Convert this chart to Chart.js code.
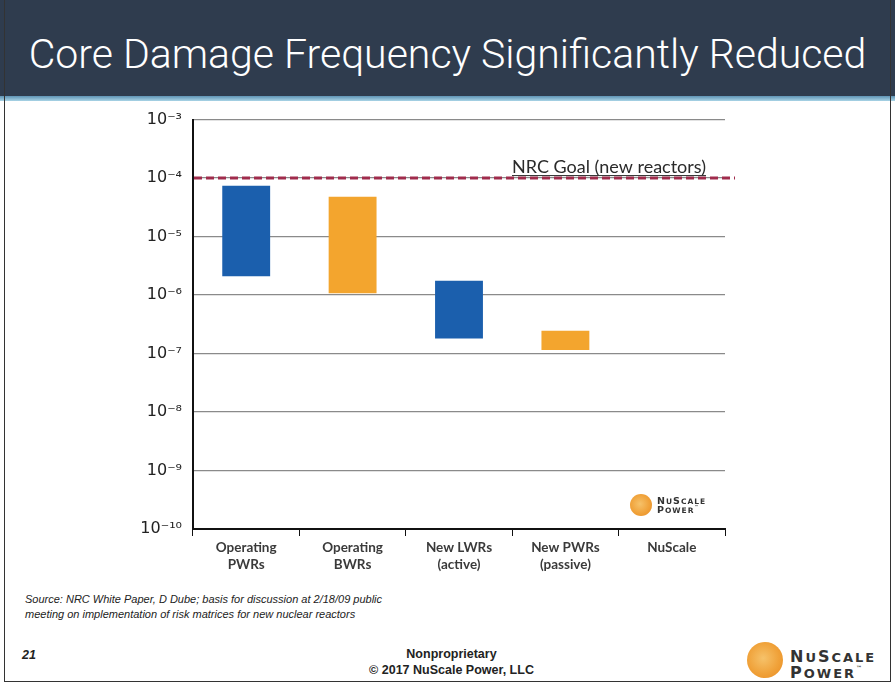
<!DOCTYPE html>
<html>
<head>
<meta charset="utf-8">
<script src="https://cdn.jsdelivr.net/npm/chart.js@4"></script>
<style>
  html,body{margin:0;padding:0;background:#fff;}
  #slide{position:relative;width:895px;height:686px;overflow:hidden;background:#fff;font-family:'Liberation Sans',Arial,sans-serif;}
  #titlebar{position:absolute;left:0;top:0;width:895px;height:101px;background:#2f3c4e;}
  #titlebar .strip{position:absolute;left:0;bottom:0;width:100%;height:5px;background:linear-gradient(#5f93b4,#a9d4e6);}
  #title{position:absolute;left:0;top:30px;width:895px;text-align:center;color:#fff;font-family:Roboto,'Liberation Sans',Arial,sans-serif;font-size:41px;font-weight:300;white-space:nowrap;}
  #chartwrap{position:absolute;left:0;top:99px;width:895px;height:486px;}
  .src{position:absolute;left:25px;font-style:italic;font-size:11px;color:#222;white-space:nowrap;}
  #pg{position:absolute;left:22px;top:648px;font-weight:bold;font-style:italic;font-size:12.5px;color:#222;}
  .foot{position:absolute;left:4px;width:895px;text-align:center;font-weight:bold;font-size:12.5px;color:#222;}
  .logo{position:absolute;}
  .logo .ball{position:absolute;border-radius:50%;background:radial-gradient(circle at 45% 45%,#f6c26a 0%,#f0a23a 55%,#e88a20 100%);}
  .logo .t{position:absolute;font-family:'DejaVu Sans',sans-serif;font-weight:bold;color:#333;line-height:1;white-space:nowrap;}
  #border{position:absolute;left:4px;top:0;width:887px;height:682px;border:1px solid #333;border-top:none;box-sizing:border-box;pointer-events:none;}
</style>
</head>
<body>
<div id="slide">
  <div id="titlebar"><div class="strip"></div><div id="title">Core Damage Frequency Significantly Reduced</div></div>
  <div id="chartwrap"><canvas id="c"></canvas></div>
  <div class="logo" style="left:630px;top:494px;">
    <div class="ball" style="left:0;top:0;width:22px;height:22px;"></div>
    <div class="t" style="left:27px;top:2px;font-size:9.5px;letter-spacing:1px;">N<span style="font-size:7.5px">U</span>S<span style="font-size:7.5px">CALE</span></div>
    <div class="t" style="left:27px;top:11px;font-size:9.5px;letter-spacing:1px;">P<span style="font-size:7.5px">OWER</span><span style="font-size:4px;vertical-align:top">™</span></div>
  </div>
  <div class="src" style="top:593px;">Source: NRC White Paper, D  Dube; basis for discussion at 2/18/09 public</div>
  <div class="src" style="top:608px;">meeting  on implementation of risk matrices for new nuclear reactors</div>
  <div id="pg">21</div>
  <div class="foot" style="top:647px;">Nonproprietary</div>
  <div class="foot" style="top:663px;">© 2017 NuScale Power, LLC</div>
  <div class="logo" style="left:747px;top:642px;">
    <div class="ball" style="left:0;top:0;width:36px;height:36px;"></div>
    <div class="t" style="left:43px;top:7px;font-size:16px;letter-spacing:2px;">N<span style="font-size:13px">U</span>S<span style="font-size:13px">CALE</span></div>
    <div class="t" style="left:43px;top:23px;font-size:16px;letter-spacing:2px;">P<span style="font-size:13px">OWER</span><span style="font-size:6px;vertical-align:top">™</span></div>
  </div>
  <div id="border"></div>
</div>
<script>
// ---- data ----
const categories = [["Operating","PWRs"],["Operating","BWRs"],["New LWRs","(active)"],["New PWRs","(passive)"],["NuScale"]];
const cdfLow  = [2.1e-6, 1.07e-6, 1.8e-7, 1.15e-7, null];
const cdfHigh = [7.4e-5, 4.8e-5, 1.75e-6, 2.45e-7, null];
const barColors = ["#1b5fad","#f3a52e","#1b5fad","#f3a52e","#f3a52e"];
const yTickValues = [1e-10,1e-9,1e-8,1e-7,1e-6,1e-5,1e-4,1e-3];
const yTickLabels = ["10⁻¹⁰","10⁻⁹","10⁻⁸","10⁻⁷","10⁻⁶","10⁻⁵","10⁻⁴","10⁻³"];
const nrcGoal = 1e-4;
const nrcGoalLabel = "NRC Goal (new reactors)";

const ranges = cdfLow.map((lo,i)=> lo==null ? null : [lo, cdfHigh[i]]);

const goalPlugin = {
  id:'goal',
  afterDatasetsDraw(chart){
    const {ctx, chartArea, scales:{y}} = chart;
    const yy = y.getPixelForValue(nrcGoal);
    ctx.save();
    ctx.strokeStyle = '#a02c4c';
    ctx.lineWidth = 3;
    ctx.setLineDash([8,4]);
    ctx.beginPath();
    ctx.moveTo(chartArea.left+1, yy);
    ctx.lineTo(chartArea.right+10, yy);
    ctx.stroke();
    ctx.setLineDash([]);
    ctx.font = '18px Lato, "Open Sans", sans-serif';
    ctx.fillStyle = '#2a2a2a';
    ctx.textBaseline = 'alphabetic';
    const tx = 512, ty = yy - 5;
    ctx.fillText(nrcGoalLabel, tx, ty);
    const w = ctx.measureText(nrcGoalLabel).width;
    ctx.strokeStyle = '#2a2a2a';
    ctx.lineWidth = 1;
    ctx.beginPath();
    ctx.moveTo(tx, ty+2.5); ctx.lineTo(tx+w, ty+2.5);
    ctx.stroke();
    ctx.restore();
  }
};

new Chart(document.getElementById('c'), {
  type:'bar',
  data:{
    labels:categories,
    datasets:[{
      data:ranges,
      backgroundColor:barColors,
      borderWidth:0,
      barPercentage:0.45,
      categoryPercentage:1.0
    }]
  },
  options:{
    responsive:true,
    maintainAspectRatio:false,
    animation:false,
    layout:{padding:{left:0,right:170,top:0,bottom:0}},
    plugins:{legend:{display:false},tooltip:{enabled:false}},
    scales:{
      x:{
        grid:{drawOnChartArea:false,drawTicks:true,tickLength:7,tickColor:'#111',offset:true},
        border:{display:true,color:'#111',width:2},
        ticks:{color:'#3a3a3a',font:{family:'Lato, "Open Sans", sans-serif',size:13.5,weight:'bold'},padding:4,maxRotation:0},
        afterFit(s){ s.height = 56; }
      },
      y:{
        type:'logarithmic',
        min:1e-10,max:1e-3,
        afterBuildTicks(s){ s.ticks = yTickValues.map(v=>({value:v})); },
        grid:{color:'#8a8a8a',lineWidth:1.2,drawTicks:false},
        border:{display:true,color:'#111',width:2},
        ticks:{
          color:'#222',
          font:{family:'"DejaVu Sans", sans-serif',size:16},
          padding:11,
          callback(v){ const i = yTickValues.findIndex(t=>Math.abs(Math.log10(t)-Math.log10(v))<1e-6); return i>=0 ? yTickLabels[i] : ''; }
        },
        afterFit(s){ s.width = 193; }
      }
    }
  },
  plugins:[goalPlugin]
});
</script>
</body>
</html>
